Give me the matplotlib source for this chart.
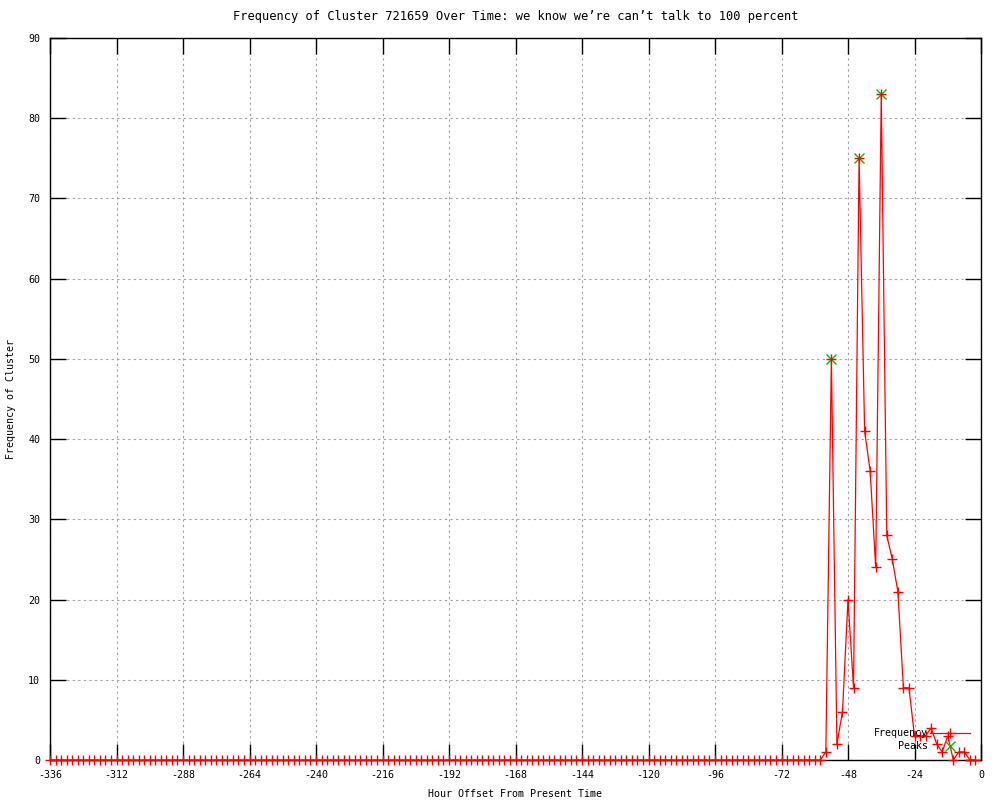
import matplotlib
matplotlib.use('Agg')
from matplotlib import pyplot as plt

plt.rcParams['font.family'] = ['DejaVu Sans Mono']
plt.rcParams['font.size'] = 7.2
plt.rcParams['axes.unicode_minus'] = False

# hourly offsets (every 2 hours) and cluster frequency
hours = list(range(-336, 0, 2))
freq_flat = [0] * 140  # -336 .. -58 all zero
freq_tail = [1, 50, 2, 6, 20, 9, 75, 41, 36, 24, 83, 28, 25, 21, 9, 9,
             3, 3, 3, 4, 2, 1, 3, 0, 1, 1, 0, 0]  # -56 .. -2
freq = freq_flat + freq_tail

peak_hours = [-54, -44, -36]
peak_vals = [50, 75, 83]

x_ticks = list(range(-336, 1, 24))
y_ticks = list(range(0, 91, 10))

fig = plt.figure(figsize=(10, 8), dpi=100)
ax = fig.add_axes([0.05, 0.05, 0.931, 0.9025])

ax.plot(hours, freq, color='red', lw=0.9, marker='+', ms=6.5, mew=1,
        label='Frequency', clip_on=False, zorder=3)
ax.plot(peak_hours, peak_vals, ls='none', color='#00c000', marker='x',
        ms=6.5, mew=1, label='Peaks', zorder=2)

ax.set_xlim(-336, 0)
ax.set_ylim(0, 90)
ax.set_xticks(x_ticks)
ax.set_yticks(y_ticks)
ax.grid(True, color='#a0a0a0', ls=(0, (2, 3)), lw=0.8)
ax.tick_params(direction='in', length=11.5, width=1, top=True, right=True,
               pad=7)
for s in ax.spines.values():
    s.set_linewidth(1)

ax.set_title("Frequency of Cluster 721659 Over Time: we know we\u2019re can\u2019t talk to 100 percent",
             pad=13)
ax.set_xlabel('Hour Offset From Present Time', labelpad=7)
ax.set_ylabel('Frequency of Cluster', labelpad=9)

ax.legend(loc='lower right', bbox_to_anchor=(0.970, 1 - 751 / 800),
          bbox_transform=fig.transFigure, frameon=False, markerfirst=False,
          handlelength=4.0, numpoints=1, labelspacing=0.3, borderpad=0,
          handletextpad=0.2, borderaxespad=0)

fig.savefig('out.png', dpi=100)
